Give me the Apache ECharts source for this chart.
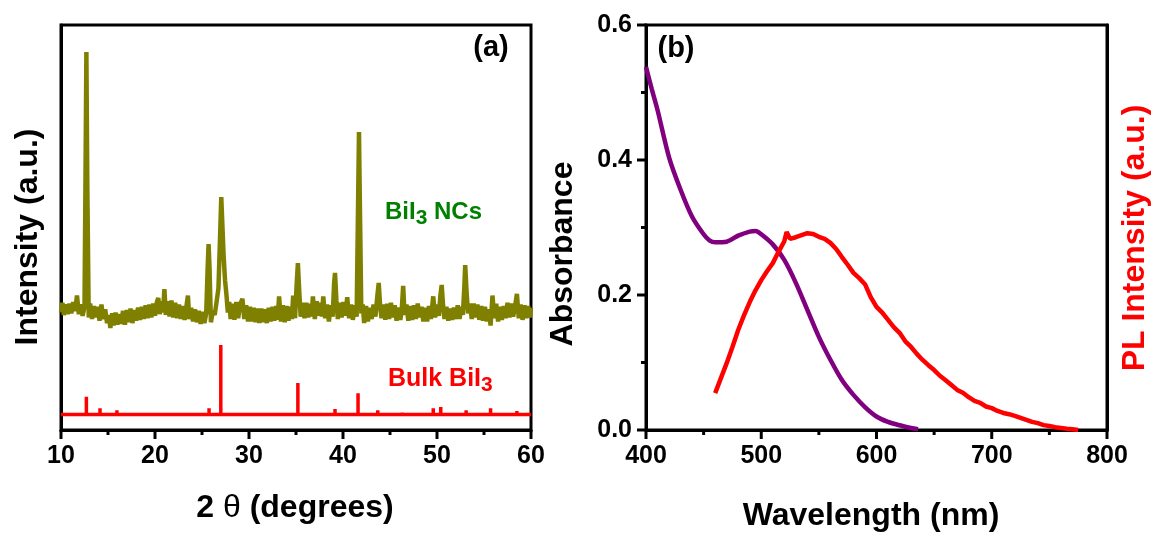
<!DOCTYPE html>
<html lang="en">
<head>
    <meta charset="UTF-8">
    <title>BiI3 XRD / absorbance / PL</title>
</head>
<body style="margin:0;background:#fff">
<div id="main" style="width:1153px;height:537px"></div>

<script type="text/javascript" src="https://cdn.jsdelivr.net/npm/echarts@6/dist/echarts.min.js"></script>
<script type="text/javascript">
    // (a) XRD of the nanocrystals: [2theta, intensity (a.u., 0-100)]
    var ncPattern = [
        [10.0, 29.0], [10.15, 31.4], [10.3, 28.4], [10.5, 31.0], [10.7, 28.6], [10.9, 31.2], [11.1, 28.8],
        [11.3, 31.6], [11.5, 29.4], [11.7, 33.2], [11.9, 28.6], [12.1, 31.0], [12.3, 28.2], [12.5, 30.4],
        [12.6, 60], [12.7, 93.3], [12.8, 60], [12.95, 27.8], [13.1, 31.2], [13.3, 27.4], [13.5, 30.6],
        [13.7, 27.8], [13.9, 30.4], [14.1, 27.0], [14.3, 31.0], [14.5, 27.4], [14.7, 29.8], [14.9, 26.4],
        [15.1, 28.4], [15.25, 25.2], [15.45, 28.8], [15.6, 25.8], [15.8, 29.0], [16.0, 26.0], [16.2, 28.6],
        [16.4, 26.2], [16.6, 29.4], [16.8, 26.0], [17.0, 29.6], [17.2, 26.6], [17.4, 30.0], [17.6, 26.4],
        [17.8, 29.6], [18.0, 27.0], [18.2, 30.2], [18.4, 27.2], [18.6, 30.4], [18.8, 27.4], [19.0, 30.8],
        [19.2, 27.6], [19.4, 31.0], [19.6, 27.8], [19.8, 31.2], [20.0, 28.2], [20.2, 31.6], [20.35, 32.6],
        [20.5, 28.6], [20.7, 31.8], [20.85, 29.0], [21.0, 34.8], [21.15, 28.4], [21.35, 31.8], [21.55, 28.0],
        [21.75, 32.0], [21.95, 27.8], [22.15, 31.4], [22.35, 27.6], [22.55, 31.0], [22.75, 27.4], [22.95, 30.6],
        [23.15, 27.2], [23.5, 33.2], [23.65, 27.4], [23.85, 30.2], [24.05, 26.8], [24.25, 29.8], [24.45, 26.6],
        [24.65, 29.4], [24.85, 26.2], [25.05, 29.2], [25.25, 26.4], [25.45, 28.8], [25.6, 40], [25.7, 45.9],
        [25.8, 40], [25.95, 26.6], [26.15, 29.4], [26.35, 28.4], [26.55, 31.6], [26.75, 35], [26.9, 46],
        [27.05, 57.5], [27.15, 57.5], [27.3, 43], [27.45, 37], [27.6, 33.4], [27.75, 29.0], [27.9, 31.6],
        [28.05, 27.4], [28.25, 31.2], [28.45, 27.2], [28.65, 31.6], [28.85, 27.6], [29.05, 31.0], [29.3, 32.4],
        [29.5, 27.4], [29.7, 30.8], [29.9, 26.8], [30.1, 30.4], [30.3, 26.8], [30.5, 30.2], [30.7, 26.6],
        [30.9, 30.0], [31.1, 26.4], [31.3, 30.0], [31.5, 26.6], [31.7, 29.8], [31.9, 26.4], [32.1, 30.2],
        [32.3, 26.8], [32.5, 30.4], [32.7, 27.0], [32.9, 30.6], [33.05, 27.2], [33.2, 33.0], [33.4, 26.8],
        [33.6, 30.8], [33.8, 26.6], [34.0, 30.6], [34.2, 27.0], [34.4, 30.4], [34.55, 27.4], [34.7, 33.2],
        [34.9, 27.6], [35.05, 35], [35.2, 41.2], [35.35, 34], [35.5, 28.0], [35.7, 31.4], [35.9, 27.6],
        [36.1, 31.4], [36.3, 27.8], [36.5, 31.2], [36.65, 28.0], [36.8, 33.0], [37.0, 27.4], [37.2, 31.8],
        [37.4, 28.2], [37.6, 31.4], [37.75, 28.0], [37.9, 33.0], [38.1, 27.6], [38.3, 31.0], [38.5, 26.8],
        [38.7, 30.8], [38.9, 28.0], [39.05, 36], [39.15, 38.8], [39.3, 32], [39.45, 27.4], [39.65, 31.4],
        [39.85, 27.8], [40.05, 31.6], [40.25, 28.2], [40.45, 32.8], [40.65, 27.6], [40.85, 31.0], [41.05, 27.2],
        [41.25, 30.8], [41.45, 28.0], [41.6, 55], [41.7, 73.6], [41.8, 55], [41.95, 28.8], [42.1, 31.0],
        [42.25, 26.4], [42.45, 30.6], [42.65, 26.8], [42.85, 30.2], [43.05, 27.4], [43.25, 31.0], [43.45, 28.0],
        [43.65, 33], [43.8, 36.3], [43.95, 30.6], [44.1, 27.6], [44.3, 31.0], [44.5, 27.2], [44.7, 31.2],
        [44.9, 27.4], [45.1, 31.4], [45.3, 27.8], [45.5, 30.8], [45.7, 27.0], [45.9, 30.2], [46.1, 27.2],
        [46.25, 29.6], [46.4, 35.6], [46.55, 28.4], [46.75, 31.0], [46.95, 27.0], [47.15, 30.6], [47.35, 27.2],
        [47.55, 30.8], [47.75, 27.4], [47.95, 31.2], [48.15, 27.8], [48.35, 30.4], [48.55, 26.8], [48.75, 30.2],
        [48.95, 26.8], [49.15, 30.6], [49.35, 27.4], [49.6, 33.0], [49.8, 27.8], [50.0, 31.0], [50.2, 28.2],
        [50.35, 33], [50.5, 35.8], [50.65, 30.6], [50.8, 27.4], [51.0, 30.4], [51.2, 27.0], [51.4, 30.0],
        [51.6, 27.2], [51.8, 30.2], [52.0, 27.4], [52.2, 30.8], [52.4, 27.4], [52.6, 30.4], [52.75, 28.4],
        [52.9, 35], [53.0, 40.7], [53.15, 34], [53.3, 28.8], [53.5, 31.2], [53.7, 27.4], [53.9, 31.2],
        [54.1, 27.8], [54.3, 31.0], [54.5, 27.2], [54.7, 30.6], [54.9, 27.0], [55.1, 30.4], [55.3, 26.8],
        [55.5, 29.8], [55.7, 25.8], [55.9, 33.2], [56.1, 27.6], [56.3, 31.2], [56.5, 26.8], [56.7, 30.4],
        [56.9, 27.2], [57.1, 30.6], [57.3, 27.6], [57.5, 31.4], [57.7, 27.8], [57.9, 31.2], [58.1, 28.0],
        [58.3, 30.4], [58.5, 33.6], [58.7, 27.6], [58.9, 31.0], [59.1, 27.2], [59.3, 30.8], [59.5, 27.6],
        [59.7, 30.6], [59.85, 27.8], [60.0, 30.2]
    ];

    // (a) bulk BiI3 reference lines
    var bulkBase = 3.8;
    var bulkTheta = [12.7, 14.15, 15.95, 25.75, 27.0, 35.2, 39.15, 41.6, 43.7, 46.3, 49.6, 50.4, 53.1, 55.7, 58.5];
    var bulkIntensity = [8.2, 5.4, 4.9, 5.4, 21.0, 11.6, 5.2, 9.1, 4.9, 4.3, 5.4, 5.7, 4.9, 5.4, 4.7];

    // (b) absorbance
    var absWavelength = [400, 405, 410, 420, 430, 440, 450, 455, 460, 470, 480, 490, 495, 500, 510, 520, 530,
        540, 550, 560, 570, 580, 590, 600, 610, 620, 630, 636];
    var absValue = [0.538, 0.505, 0.474, 0.404, 0.356, 0.316, 0.290, 0.281, 0.278, 0.279, 0.288, 0.294, 0.295,
        0.290, 0.275, 0.252, 0.218, 0.178, 0.138, 0.104, 0.074, 0.052, 0.034, 0.020, 0.012, 0.007, 0.003, 0.001];

    // (b) PL intensity (a.u., 0-1 on the right axis)
    var plWavelength = [460, 465, 470, 475, 480, 485, 490, 495, 500, 505, 510, 515, 520, 522, 525, 530, 535, 540,
        545, 550, 555, 560, 565, 570, 575, 580, 585, 590, 595, 600, 605, 610, 615, 620, 625, 630, 635, 640, 645,
        650, 655, 660, 665, 670, 675, 680, 685, 690, 695, 700, 705, 710, 715, 720, 725, 730, 735, 740, 745, 750,
        755, 760, 765, 770, 775];
    var plValue = [0.091, 0.128, 0.165, 0.205, 0.247, 0.283, 0.316, 0.345, 0.370, 0.392, 0.412, 0.440, 0.466,
        0.489, 0.472, 0.476, 0.481, 0.486, 0.484, 0.477, 0.472, 0.462, 0.447, 0.427, 0.408, 0.388, 0.375, 0.360,
        0.328, 0.304, 0.290, 0.272, 0.254, 0.240, 0.219, 0.205, 0.188, 0.173, 0.160, 0.148, 0.134, 0.123, 0.111,
        0.099, 0.092, 0.081, 0.072, 0.067, 0.058, 0.054, 0.047, 0.042, 0.039, 0.035, 0.030, 0.025, 0.020, 0.017,
        0.012, 0.010, 0.007, 0.005, 0.003, 0.002, 0.000];

    // tick positions
    var thetaMajor = [10, 20, 30, 40, 50, 60];
    var thetaMinor = [15, 25, 35, 45, 55];
    var wlMajor = [400, 500, 600, 700, 800];
    var wlMinor = [450, 550, 650, 750];
    var absMajor = [0, 0.2, 0.4, 0.6];
    var absMinor = [0.1, 0.3, 0.5];

    var FONT = "'Liberation Sans', Arial, sans-serif";

    // stick pattern built from the reference lines
    var bulkLine = [[10, bulkBase]];
    bulkTheta.forEach(function (t, i) {
        bulkLine.push([t, bulkBase], [t, bulkIntensity[i]], [t, bulkBase]);
    });
    bulkLine.push([60, bulkBase]);

    var absData = absWavelength.map(function (w, i) { return [w, absValue[i]]; });
    var plData = plWavelength.map(function (w, i) { return [w, plValue[i]]; });

    function tickLabel(margin) {
        return {color: '#000', fontFamily: FONT, fontWeight: 'bold', fontSize: 25, margin: margin};
    }
    function blackLine() {
        return {show: true, onZero: false, lineStyle: {color: '#000', width: 3}};
    }

    // outward tick marks, placed through the axes with api.coord
    function tickSeries(xIdx, yIdx, points, dir, len) {
        return {
            type: 'custom', xAxisIndex: xIdx, yAxisIndex: yIdx, data: points, clip: false,
            silent: true, z: 20,
            renderItem: function (params, api) {
                var p = api.coord([api.value(0), api.value(1)]);
                var shape = dir === 'down'
                    ? {x1: p[0], y1: p[1], x2: p[0], y2: p[1] + len}
                    : {x1: p[0] - len, y1: p[1], x2: p[0], y2: p[1]};
                return {type: 'line', shape: shape, style: {stroke: '#000', lineWidth: 3}};
            }
        };
    }
    function onX(list, y) { return list.map(function (v) { return [v, y]; }); }
    function onY(list, x) { return list.map(function (v) { return [x, v]; }); }

    function title(text, x, y, rotate, color, rich) {
        return {
            type: 'text', x: x, y: y, rotation: rotate ? Math.PI / 2 : 0, z: 100,
            style: {
                text: text, fill: color || '#000', font: 'bold 32px ' + FONT,
                align: 'center', verticalAlign: 'middle', rich: rich
            }
        };
    }

    var myChart = echarts.init(document.getElementById('main'));
    var option = {
        animation: false,
        backgroundColor: '#fff',
        grid: [
            {left: 61, right: 622, top: 25, bottom: 107, show: true, borderColor: '#000', borderWidth: 3},
            {left: 646, right: 46, top: 25, bottom: 107, show: true, borderColor: '#000', borderWidth: 3}
        ],
        xAxis: [
            {
                gridIndex: 0, type: 'value', min: 10, max: 60, interval: 10,
                axisLine: blackLine(), axisTick: {show: false},
                axisLabel: tickLabel(14), splitLine: {show: false}
            },
            {
                gridIndex: 1, type: 'value', min: 400, max: 800, interval: 100,
                axisLine: blackLine(), axisTick: {show: false},
                axisLabel: tickLabel(14), splitLine: {show: false}
            }
        ],
        yAxis: [
            {
                gridIndex: 0, type: 'value', min: 0, max: 100,
                axisLine: blackLine(), axisTick: {show: false}, axisLabel: {show: false}, splitLine: {show: false}
            },
            {
                gridIndex: 1, type: 'value', position: 'left', min: 0, max: 0.6, interval: 0.2,
                axisLine: blackLine(), axisTick: {show: false},
                axisLabel: Object.assign(tickLabel(14), {
                    formatter: function (v) { return v.toFixed(1); }
                }),
                splitLine: {show: false}
            },
            {
                gridIndex: 1, type: 'value', position: 'right', min: 0, max: 1,
                axisLine: blackLine(), axisTick: {show: false}, axisLabel: {show: false}, splitLine: {show: false}
            }
        ],
        series: [
            {
                name: 'BiI3 NCs', type: 'line', xAxisIndex: 0, yAxisIndex: 0, data: ncPattern,
                showSymbol: false, lineStyle: {color: '#808000', width: 4.5}, z: 3
            },
            {
                name: 'Bulk BiI3', type: 'line', xAxisIndex: 0, yAxisIndex: 0, data: bulkLine,
                showSymbol: false, lineStyle: {color: '#ff0000', width: 3.5}, z: 2
            },
            {
                name: 'Absorbance', type: 'line', xAxisIndex: 1, yAxisIndex: 1, data: absData,
                showSymbol: false, smooth: 0.3, lineStyle: {color: '#800080', width: 4.5}, z: 2
            },
            {
                name: 'PL', type: 'line', xAxisIndex: 1, yAxisIndex: 2, data: plData,
                showSymbol: false, lineStyle: {color: '#ff0000', width: 4.5}, z: 3
            },
            tickSeries(0, 0, onX(thetaMajor, 0), 'down', 9),
            tickSeries(0, 0, onX(thetaMinor, 0), 'down', 5),
            tickSeries(1, 1, onX(wlMajor, 0), 'down', 9),
            tickSeries(1, 1, onX(wlMinor, 0), 'down', 5),
            tickSeries(1, 1, onY(absMajor, 400), 'left', 9),
            tickSeries(1, 1, onY(absMinor, 400), 'left', 5)
        ],
        graphic: [
            title('{b|2 }{t|θ}{b| (degrees)}', 295, 508, false, '#000', {
                b: {font: 'bold 32px ' + FONT},
                t: {font: '32px ' + FONT}
            }),
            title('Intensity (a.u.)', 28, 237, true),
            title('Wavelength (nm)', 871, 516, false),
            title('Absorbance', 563, 254, true),
            title('PL Intensity (a.u.)', 1135, 238, true, '#ff0000'),
            {
                type: 'text', x: 491, y: 48, z: 100,
                style: {text: '(a)', fill: '#000', font: 'bold 29px ' + FONT, align: 'center', verticalAlign: 'middle'}
            },
            {
                type: 'text', x: 676, y: 49, z: 100,
                style: {text: '(b)', fill: '#000', font: 'bold 29px ' + FONT, align: 'center', verticalAlign: 'middle'}
            },
            {
                type: 'text', x: 385, y: 212, z: 100,
                style: {
                    text: '{m|BiI}{s|3}{m| NCs}', fill: '#008000', align: 'left', verticalAlign: 'middle',
                    rich: {
                        m: {font: 'bold 24px ' + FONT, fill: '#008000'},
                        s: {font: 'bold 21px ' + FONT, fill: '#008000', padding: [12, 0, 0, 0]}
                    }
                }
            },
            {
                type: 'text', x: 388, y: 379, z: 100,
                style: {
                    text: '{m|Bulk BiI}{s|3}', fill: '#ff0000', align: 'left', verticalAlign: 'middle',
                    rich: {
                        m: {font: 'bold 25px ' + FONT, fill: '#ff0000'},
                        s: {font: 'bold 21px ' + FONT, fill: '#ff0000', padding: [12, 0, 0, 0]}
                    }
                }
            }
        ]
    };
    myChart.setOption(option);
</script>
</body>
</html>
